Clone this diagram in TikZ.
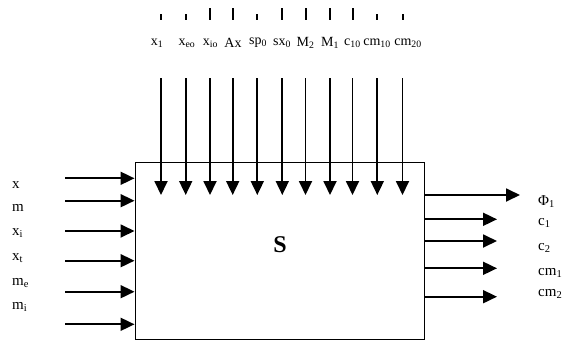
\documentclass[tikz,border=0pt]{standalone}
\usepackage{fontspec}
\setmainfont{Liberation Serif}
\usetikzlibrary{arrows.meta}

\begin{document}
\begin{tikzpicture}[x=1pt, y=-1pt, >={Triangle[length=14pt,width=13pt]},
    font=\fontsize{15}{18}\selectfont]
    \useasboundingbox (0,0) rectangle (569,341);
    \tikzset{
      flow/.style={->, line width=1.8pt},
      tick/.style={line width=2pt},
      toplabel/.style={font=\fontsize{14}{16}\selectfont, inner sep=0pt},
      sidelabel/.style={anchor=west, inner sep=0pt}
    }

    \node[draw, line width=1pt, minimum width=289pt, minimum height=177pt, inner sep=0pt] (S) at (279.5,250.5) {};
    \node[font=\fontsize{24}{28}\selectfont\bfseries] (Slabel) at (280,245) {S};

    % inputs from above
    \foreach \k/\x/\lx/\lab/\tk in {1/161/157/x\textsubscript{1}/14, 2/185.7/187/x\textsubscript{eo}/14,
        3/210/210.5/x\textsubscript{io}/8, 4/232.7/233/Ax/8, 5/257.3/258/sp\textsubscript{0}/14,
        6/282.3/282/sx\textsubscript{0}/8, 7/305.5/305.5/M\textsubscript{2}/8, 8/330/330/M\textsubscript{1}/8,
        9/352.5/352.5/c\textsubscript{10}/8, 10/377.3/377/cm\textsubscript{10}/14, 11/402.5/408/cm\textsubscript{20}/14}{
      \draw[tick] (\x,\tk) -- (\x,20);
      \node[toplabel] (top\k) at (\lx,43) {\lab};
      \coordinate (src\k) at (\x,78);
      \coordinate (dst\k) at (\x,195);
      \draw[flow] (src\k) -- (dst\k);
    }

    % inputs from the left
    \foreach \i/\y in {1/178.3, 2/200.7, 3/231, 4/260.7, 5/291.7, 6/324.3}{
      \coordinate (left\i) at (65,\y);
      \draw[flow] (left\i) -- (S.west |- left\i);
    }
    \node[sidelabel] (lx) at (12,185) {x};
    \node[sidelabel] (lm) at (12,208) {m};
    \node[sidelabel] (lxi) at (12,233) {x\textsubscript{i}};
    \node[sidelabel] (lxt) at (12,258) {x\textsubscript{t}};
    \node[sidelabel] (lme) at (12,283) {m\textsubscript{e}};
    \node[sidelabel] (lmi) at (12,307) {m\textsubscript{i}};

    % outputs
    \coordinate (out1) at (520,195);
    \coordinate (out2) at (497,219.3);
    \coordinate (out3) at (497,241);
    \coordinate (out4) at (497,268.3);
    \coordinate (out5) at (497,296.7);
    \foreach \i in {1,...,5}{
      \draw[flow] (S.east |- out\i) -- (out\i);
    }
    \node[sidelabel] (rphi) at (538,202) {Φ\textsubscript{1}};
    \node[sidelabel] (rc1) at (538,223) {c\textsubscript{1}};
    \node[sidelabel] (rc2) at (538,248) {c\textsubscript{2}};
    \node[sidelabel] (rcm1) at (538,273) {cm\textsubscript{1}};
    \node[sidelabel] (rcm2) at (538,294) {cm\textsubscript{2}};
\end{tikzpicture}
\end{document}
